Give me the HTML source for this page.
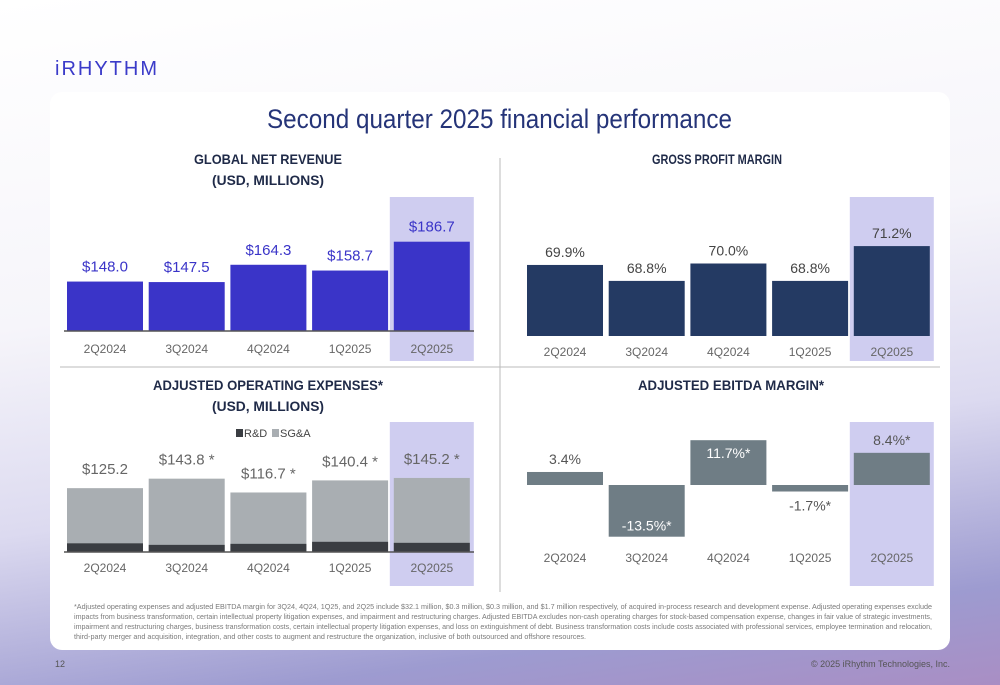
<!DOCTYPE html>
<html><head><meta charset="utf-8"><style>
body{margin:0;width:1000px;height:685px;overflow:hidden;font-family:"Liberation Sans",sans-serif;}
#bg{position:absolute;left:0;top:0;width:1000px;height:685px;background:linear-gradient(172deg,#ffffff 0%,#f6f5fa 40%,#dcdaf0 65%,#9d9bd0 88%,#a98ec4 100%);}
svg{position:absolute;left:0;top:0}
</style></head><body>
<div id="bg"></div>
<svg id="s" width="1000" height="685">
<text x="55" y="75" font-size="20" fill="#3b3bc9" letter-spacing="2" textLength="104" lengthAdjust="spacingAndGlyphs">iRHYTHM</text>
<rect x="50" y="92" width="900" height="558" rx="12" fill="#fff"/>
<text x="267" y="128" font-size="27" fill="#253478" textLength="465" lengthAdjust="spacingAndGlyphs">Second quarter 2025 financial performance</text>
<line x1="500" y1="158" x2="500" y2="592" stroke="#bbb"/>
<line x1="60" y1="367" x2="940" y2="367" stroke="#bbb"/>
<g font-size="14" font-weight="bold" fill="#1f2a48" lengthAdjust="spacingAndGlyphs">
<text x="194" y="164" textLength="148" lengthAdjust="spacingAndGlyphs">GLOBAL NET REVENUE</text>
<text x="212" y="185" textLength="112" lengthAdjust="spacingAndGlyphs">(USD, MILLIONS)</text>
<text x="652" y="164" textLength="130" lengthAdjust="spacingAndGlyphs">GROSS PROFIT MARGIN</text>
<text x="153" y="390" textLength="230" lengthAdjust="spacingAndGlyphs">ADJUSTED OPERATING EXPENSES*</text>
<text x="212" y="411" textLength="112" lengthAdjust="spacingAndGlyphs">(USD, MILLIONS)</text>
<text x="638" y="390" textLength="186" lengthAdjust="spacingAndGlyphs">ADJUSTED EBITDA MARGIN*</text>
</g>
<g font-size="11" fill="#444">
<rect x="236" y="429" width="7" height="8" fill="#3a3d42"/>
<text x="244" y="437">R&amp;D</text>
<rect x="272" y="429" width="7" height="8" fill="#a9aeb2"/>
<text x="280" y="437">SG&amp;A</text>
</g>
<g font-size="7.3" fill="#7a7a7a">
<text x="74" y="609" textLength="858" lengthAdjust="spacingAndGlyphs">*Adjusted operating expenses and adjusted EBITDA margin for 3Q24, 4Q24, 1Q25, and 2Q25 include $32.1 million, $0.3 million, $0.3 million, and $1.7 million respectively, of acquired in-process research and development expense. Adjusted operating expenses exclude</text>
<text x="74" y="619" textLength="858" lengthAdjust="spacingAndGlyphs">impacts from business transformation, certain intellectual property litigation expenses, and impairment and restructuring charges. Adjusted EBITDA excludes non-cash operating charges for stock-based compensation expense, changes in fair value of strategic investments,</text>
<text x="74" y="629" textLength="858" lengthAdjust="spacingAndGlyphs">impairment and restructuring charges, business transformation costs, certain intellectual property litigation expenses, and loss on extinguishment of debt. Business transformation costs include costs associated with professional services, employee termination and relocation,</text>
<text x="74" y="639" textLength="512" lengthAdjust="spacingAndGlyphs">third-party merger and acquisition, integration, and other costs to augment and restructure the organization, inclusive of both outsourced and offshore resources.</text>
</g>
<text x="55" y="667" font-size="9" fill="#555">12</text>
<text x="950" y="667" font-size="9" fill="#555" text-anchor="end">© 2025 iRhythm Technologies, Inc.</text>
</svg>
<script>
const categories=["2Q2024","3Q2024","4Q2024","1Q2025","2Q2025"];
const revenue=[148.0,147.5,164.3,158.7,186.7];
const revenueLabels=["$148.0","$147.5","$164.3","$158.7","$186.7"];
const grossMargin=[69.9,68.8,70.0,68.8,71.2];
const grossLabels=["69.9%","68.8%","70.0%","68.8%","71.2%"];
const opexTotal=[125.2,143.8,116.7,140.4,145.2];
const opexRD=[17,14,16,20,18];
const opexLabels=["$125.2","$143.8 *","$116.7 *","$140.4 *","$145.2 *"];
const ebitda=[3.4,-13.5,11.7,-1.7,8.4];
const ebitdaLabels=["3.4%","-13.5%*","11.7%*","-1.7%*","8.4%*"];

const S=document.getElementById('s');const NS='http://www.w3.org/2000/svg';
function el(t,a){const e=document.createElementNS(NS,t);for(const k in a)e.setAttribute(k,a[k]);S.appendChild(e);return e;}
function txt(x,y,s,size,fill,name){const e=el('text',{x:x,y:y,'font-size':size,fill:fill,'text-anchor':'middle'});e.textContent=s;

return e;}
function panel(x0,hlTop,hlBot,base,labelY){
 const xs=categories.map((c,i)=>x0+i*81.7);
 const hl=el('rect',{x:xs[4]-4,y:hlTop,width:84,height:hlBot-hlTop,fill:'#cfcdf0'});
 
 
 categories.forEach((c,i)=>{txt(xs[i]+38,labelY,c,12,'#666','x-label-'+c);});
 return xs;
}
let xs=panel(67,197,361,331,353);
const ry=v=>331-(v-100)*1.03;
revenue.forEach((v,i)=>{const r=el('rect',{x:xs[i],y:ry(v),width:76,height:331-ry(v),fill:'#3a34c8'});


txt(xs[i]+38,ry(v)-10,revenueLabels[i],15,'#3a34c8','revenue-label');});
el('line',{x1:64,y1:331,x2:474,y2:331,stroke:'#555','stroke-width':1.5});
xs=panel(527,197,361,336,356);
const gy=v=>336-(v-65)*14.5;
grossMargin.forEach((v,i)=>{const r=el('rect',{x:xs[i],y:gy(v),width:76,height:336-gy(v),fill:'#243a63'});


txt(xs[i]+38,gy(v)-8,grossLabels[i],14,'#444','gross-margin-label');});
xs=panel(67,422,586,552,572);
const oy=v=>v*0.51;
opexTotal.forEach((v,i)=>{const r=el('rect',{x:xs[i],y:552-oy(v),width:76,height:oy(v),fill:'#a9aeb2'});


const d=el('rect',{x:xs[i],y:552-oy(opexRD[i]),width:76,height:oy(opexRD[i]),fill:'#3a3d42'});


txt(xs[i]+38,552-oy(v)-14,opexLabels[i],15,'#666','opex-label');});
el('line',{x1:64,y1:552,x2:474,y2:552,stroke:'#555','stroke-width':1.5});
xs=panel(527,422,586,485,562);
const ey=v=>485-v*3.83;
ebitda.forEach((v,i)=>{const top=Math.min(ey(v),485),h=Math.abs(v*3.83);
const r=el('rect',{x:xs[i],y:top,width:76,height:h,fill:'#6f7d85'});


let ly,fill='#555';
if(i==1){ly=ey(v)-6;fill='#fff';}else if(i==2){ly=ey(v)+18;fill='#fff';}
else if(v<0){ly=ey(v)+19;}else{ly=ey(v)-8;}
txt(xs[i]+38,ly,ebitdaLabels[i],14,fill,'ebitda-label');});
</script>
</body></html>
